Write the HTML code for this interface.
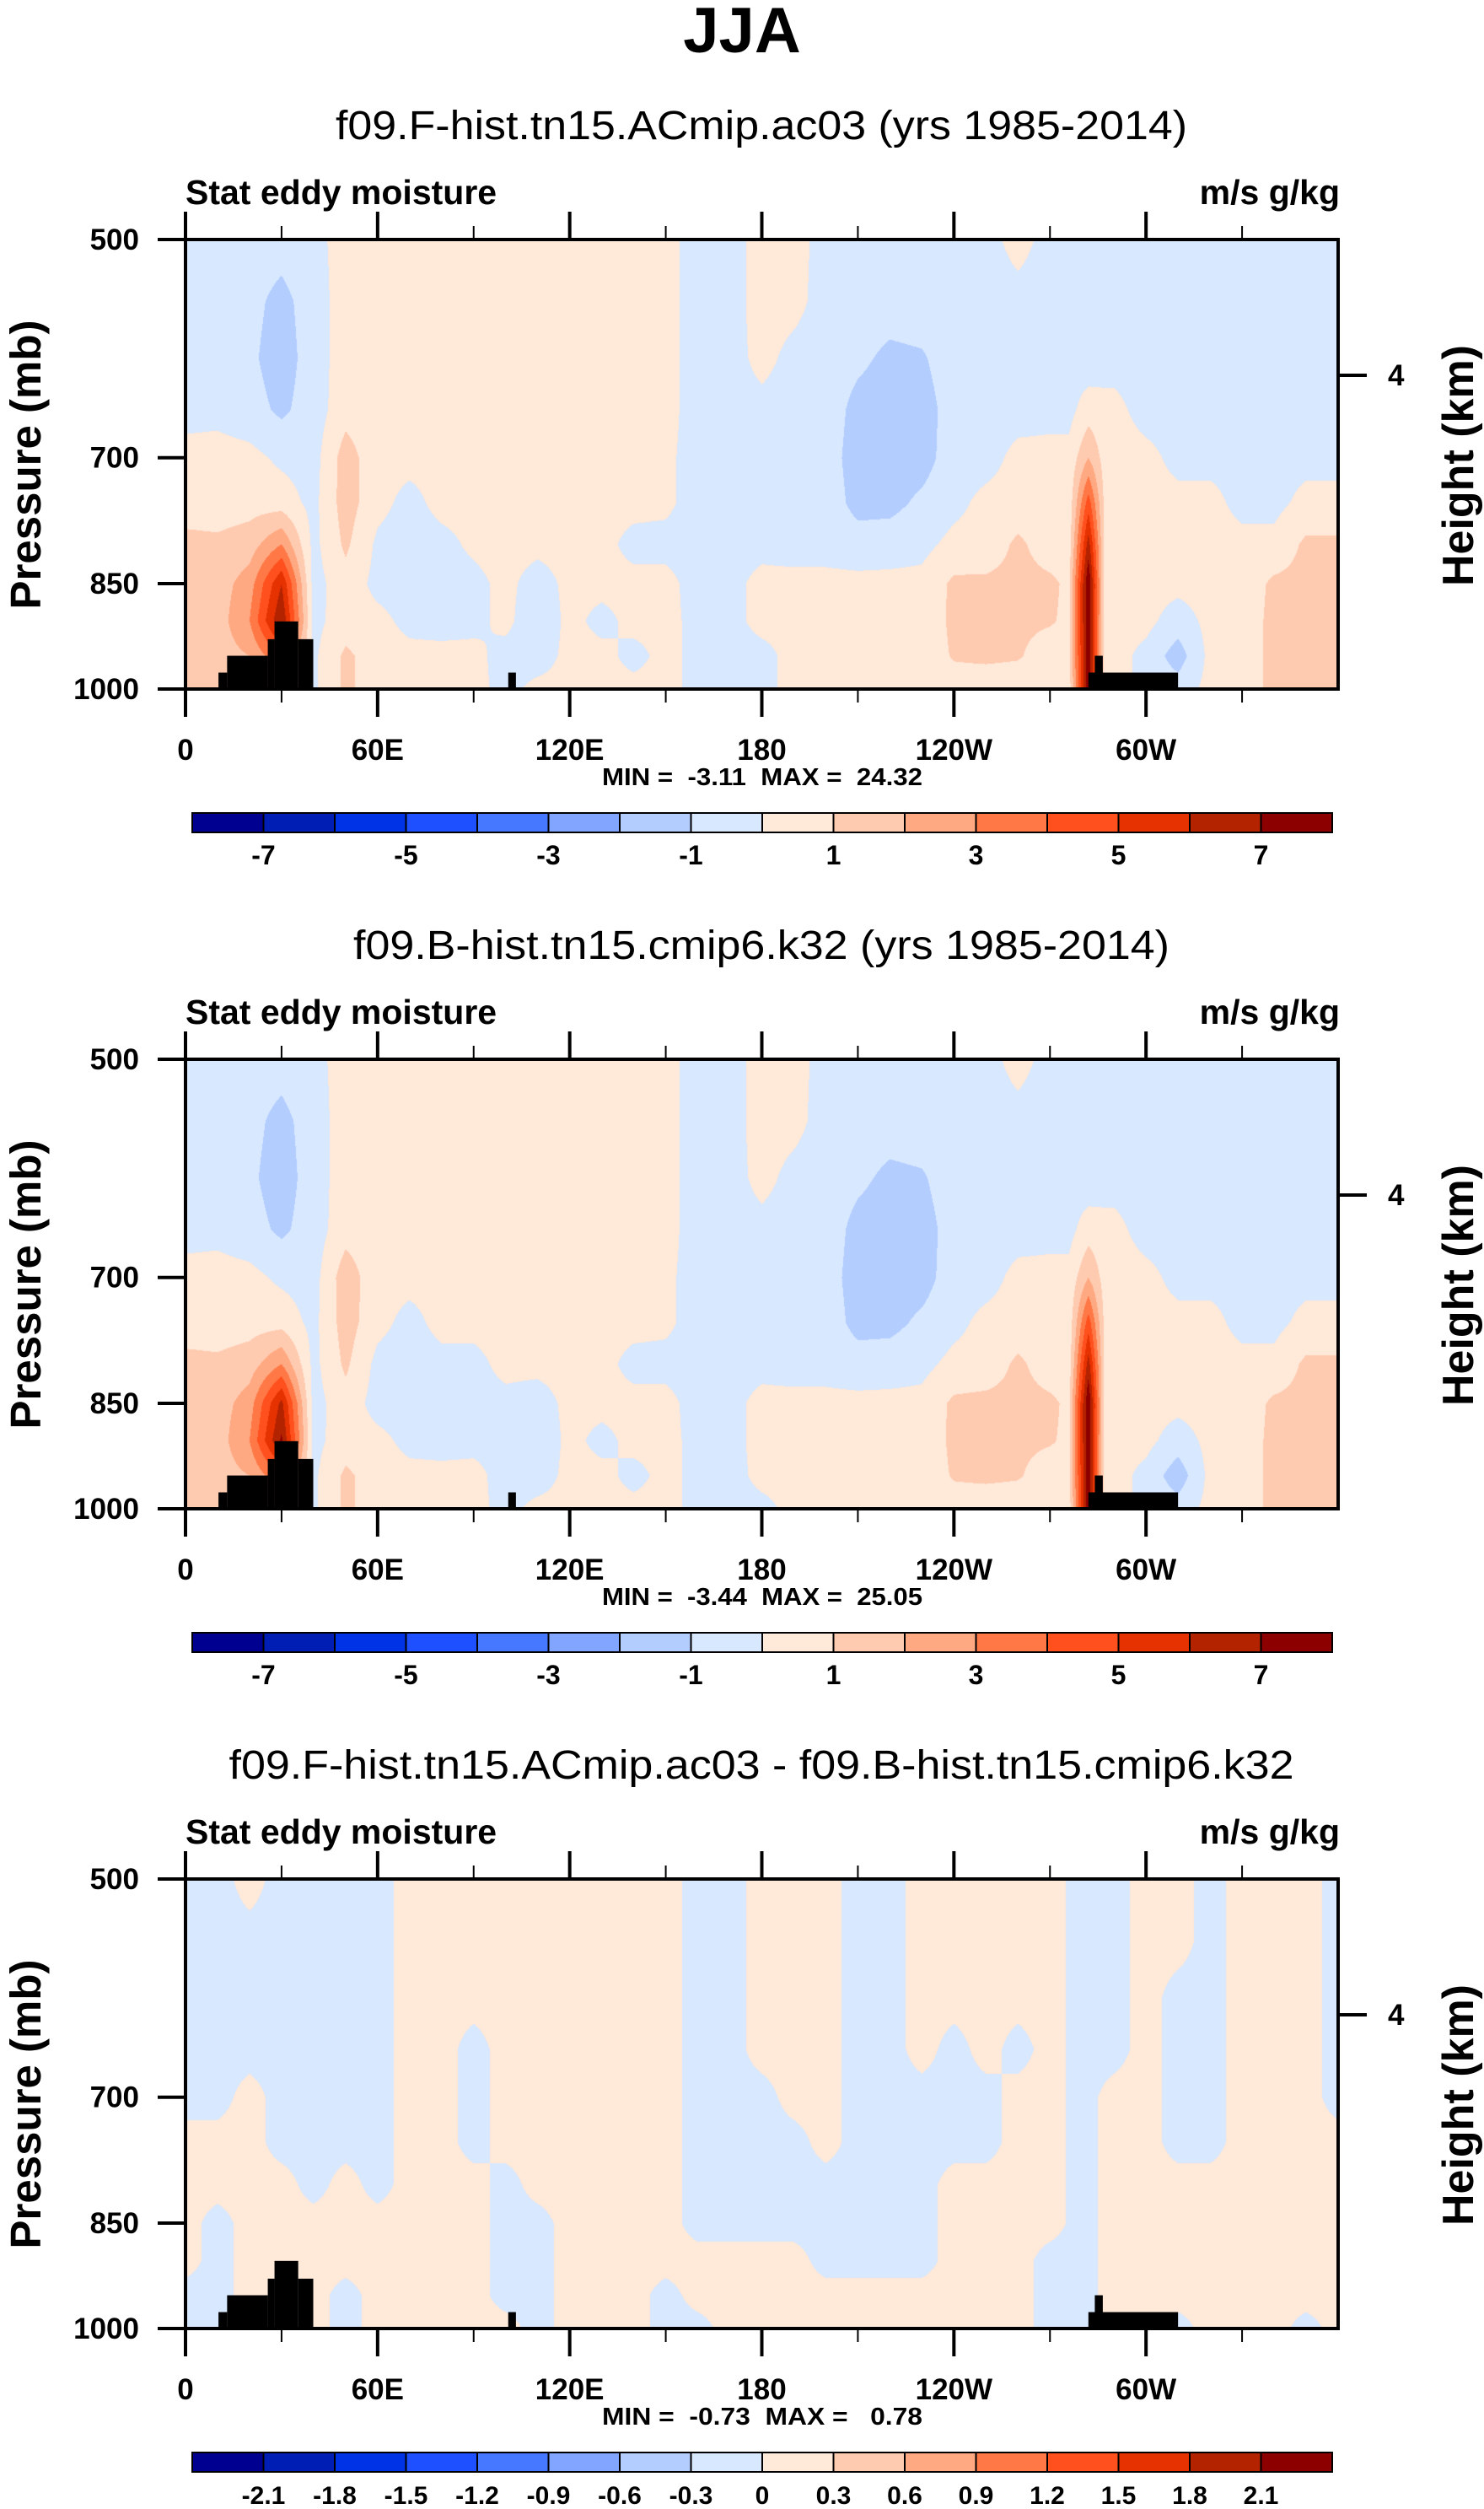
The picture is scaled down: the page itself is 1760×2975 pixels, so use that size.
<!DOCTYPE html>
<html><head><meta charset="utf-8">
<style>
html,body{margin:0;padding:0;background:#fff;}
#wrap{position:relative;width:1760px;height:2975px;overflow:hidden;}
canvas{position:absolute;left:220px;}
svg{position:absolute;left:0;top:0;}
text{font-family:"Liberation Sans",Arial,sans-serif;fill:#000;white-space:pre;}
</style></head>
<body>
<div id="wrap">
<canvas id="c0" width="1367" height="533" style="top:284px"></canvas>
<canvas id="c1" width="1367" height="533" style="top:1256px"></canvas>
<canvas id="c2" width="1367" height="533" style="top:2228px"></canvas>
<svg id="svg" width="1760" height="2975" xmlns="http://www.w3.org/2000/svg">
<text x="880" y="62" text-anchor="middle" font-size="76" font-weight="bold">JJA</text>
</svg>
</div>
<script>
// ---- data ----
const lonNodes=[0,10,20,30,40,50,60,70,80,90,100,110,120,130,140,150,160,170,180,190,200,210,220,230,240,250,260,270,280,290,300,310,320,330,340,350,360];
const lonNodesFine=[0,10,20,30,40,50,60,70,80,90,100,110,120,130,140,150,160,170,180,190,200,210,220,230,240,250,260,270,276,282,287,290,300,310,320,330,340,350,360];
const presLevels=[500,550,600,650,700,750,800,850,900,950,1000];
const field1=[
[-0.5,-0.5,-0.5,-0.3,0.3,0.5,1.3,1.5,1.5,1.5,1.5],
[-0.5,-0.5,-0.5,-0.3,0.4,0.5,1.2,1.5,1.5,1.5,1.5],
[-0.5,-0.7,-0.8,-0.6,0.3,0.6,1.5,2.5,3,2,2],
[-0.6,-1.3,-1.5,-1.2,-0.2,0.5,3,6,7,4,3],
[-0.3,-0.5,-0.5,-0.5,-0.4,-0.3,-0.3,-0.4,-0.3,-0.2,-0.2],
[0.4,0.5,0.5,0.6,1.5,1.5,1.2,0.6,0.5,1.2,1.2],
[0.4,0.5,0.5,0.4,0.3,0.3,-0.2,-0.3,0.3,0.5,0.5],
[0.4,0.4,0.4,0.3,0.3,-0.3,-0.5,-0.5,-0.3,0.3,0.3],
[0.4,0.4,0.4,0.3,0.3,0.3,-0.3,-0.5,-0.4,0.3,0.3],
[0.4,0.4,0.4,0.4,0.4,0.3,0.2,-0.3,-0.3,0.3,0.3],
[0.4,0.4,0.4,0.4,0.4,0.4,0.4,0.3,0.3,-0.4,-0.3],
[0.4,0.4,0.4,0.4,0.4,0.4,0.3,-0.5,-0.8,-0.5,0.3],
[0.4,0.4,0.4,0.4,0.4,0.4,0.4,0.3,0.3,0.3,0.3],
[0.4,0.4,0.4,0.4,0.4,0.3,0.3,0.3,-0.3,0.3,0.3],
[0.4,0.4,0.4,0.4,0.4,0.3,-0.3,0.3,0.3,-0.3,0.3],
[0.3,0.3,0.3,0.3,0.2,0.2,-0.3,0.3,0.3,0.3,0.3],
[-0.4,-0.4,-0.4,-0.4,-0.4,-0.4,-0.4,-0.4,-0.3,-0.3,-0.3],
[-0.4,-0.4,-0.4,-0.4,-0.4,-0.4,-0.4,-0.3,-0.3,-0.4,-0.4],
[0.4,0.4,0.3,-0.3,-0.4,-0.4,-0.3,0.3,0.3,-0.3,-0.3],
[0.3,0.3,-0.3,-0.4,-0.4,-0.4,-0.4,0.3,0.3,0.3,0.3],
[-0.3,-0.4,-0.5,-0.5,-0.6,-0.5,-0.4,0.3,0.4,0.4,0.4],
[-0.4,-0.5,-0.8,-1.3,-1.4,-1.3,-0.6,0.3,0.4,0.4,0.4],
[-0.4,-0.6,-1.2,-1.5,-1.5,-1.3,-0.5,0.3,0.4,0.4,0.4],
[-0.4,-0.5,-1.1,-1.4,-1.4,-0.8,-0.3,0.3,0.4,0.4,0.4],
[-0.5,-0.5,-0.5,-0.6,-0.5,-0.3,0.3,1.2,1.2,1.1,0.5],
[-0.3,-0.4,-0.5,-0.5,-0.4,0.3,0.4,1.2,1.3,1.2,0.4],
[0.3,-0.3,-0.4,-0.4,0.3,0.4,1.2,1.3,1.2,1.1,0.4],
[-0.3,-0.4,-0.4,-0.3,0.3,0.4,0.5,1.2,1.1,0.5,0.4],
[-0.3,-0.4,-0.4,-0.3,0.3,0.4,0.5,0.8,0.8,0.6,0.5],
[-0.5,-0.8,-0.6,0.5,2,4.5,6.5,8,8,8,8],
[-0.4,-0.5,-0.4,0.3,0.6,0.8,0.8,0.6,0.5,0.5,0.5],
[-0.4,-0.4,-0.4,0.3,0.5,0.5,0.4,0.4,0.4,0.4,0.4],
[-0.4,-0.4,-0.4,-0.4,0.3,0.4,0.4,0.4,0.3,-0.3,-0.3],
[-0.4,-0.7,-0.7,-0.4,-0.3,0.3,0.3,0.3,-0.5,-1.5,-0.5],
[-0.4,-0.5,-0.5,-0.4,-0.3,0.3,0.4,0.4,0.3,0.3,0.3],
[-0.4,-0.6,-0.8,-0.6,-0.3,-0.3,0.3,0.4,0.4,0.4,0.4],
[-0.4,-0.4,-0.4,-0.4,-0.4,-0.3,0.3,1.2,1.3,1.3,1.3],
[-0.4,-0.4,-0.4,-0.4,-0.3,0.3,1.2,1.3,1.3,1.4,1.4],
[-0.4,-0.4,-0.4,-0.4,-0.3,0.3,1.2,1.3,1.3,1.5,1.5]];
const field2=[
[-0.5,-0.5,-0.5,-0.3,0.3,0.5,1.3,1.5,1.5,1.5,1.5],
[-0.5,-0.5,-0.5,-0.3,0.4,0.5,1.2,1.5,1.5,1.5,1.5],
[-0.5,-0.7,-0.8,-0.6,0.3,0.6,1.5,2.5,3,2,2],
[-0.6,-1.3,-1.5,-1.2,-0.2,0.6,3,6.3,7.2,4,3],
[-0.3,-0.5,-0.5,-0.5,-0.4,-0.3,-0.3,-0.4,-0.3,-0.2,-0.2],
[0.4,0.5,0.5,0.6,1.6,1.5,1.2,0.6,0.5,1.2,1.2],
[0.4,0.5,0.5,0.4,0.3,0.3,-0.3,-0.4,0.3,0.5,0.5],
[0.4,0.4,0.4,0.3,0.3,-0.3,-0.5,-0.5,-0.3,0.3,0.3],
[0.4,0.4,0.4,0.3,0.3,0.3,-0.3,-0.5,-0.4,0.3,0.3],
[0.4,0.4,0.4,0.4,0.4,0.3,-0.3,-0.4,-0.3,0.3,0.3],
[0.4,0.4,0.4,0.4,0.4,0.4,0.3,-0.3,-0.3,-0.4,-0.3],
[0.4,0.4,0.4,0.4,0.4,0.4,0.3,-0.5,-0.8,-0.5,0.3],
[0.4,0.4,0.4,0.4,0.4,0.4,0.4,0.3,0.3,0.3,0.3],
[0.4,0.4,0.4,0.4,0.4,0.3,0.3,0.3,-0.3,0.3,0.3],
[0.4,0.4,0.4,0.4,0.4,0.3,-0.3,0.3,0.3,-0.3,0.3],
[0.3,0.3,0.3,0.3,0.2,0.2,-0.3,0.3,0.3,0.3,0.3],
[-0.4,-0.4,-0.4,-0.4,-0.4,-0.4,-0.4,-0.4,-0.3,-0.3,-0.3],
[-0.4,-0.4,-0.4,-0.4,-0.4,-0.4,-0.4,-0.3,-0.3,-0.4,-0.4],
[0.4,0.4,0.3,-0.3,-0.4,-0.4,-0.3,0.3,0.3,0.3,-0.3],
[0.3,0.3,-0.3,-0.4,-0.4,-0.4,-0.4,0.3,0.3,0.3,0.3],
[-0.3,-0.4,-0.5,-0.5,-0.6,-0.5,-0.4,0.3,0.4,0.4,0.4],
[-0.4,-0.5,-0.8,-1.3,-1.4,-1.3,-0.6,0.3,0.4,0.4,0.4],
[-0.4,-0.6,-1.2,-1.5,-1.5,-1.3,-0.5,0.3,0.4,0.4,0.4],
[-0.4,-0.5,-1.1,-1.4,-1.4,-0.8,-0.3,0.3,0.4,0.4,0.4],
[-0.5,-0.5,-0.5,-0.6,-0.5,-0.3,0.3,1.2,1.2,1.1,0.5],
[-0.3,-0.4,-0.5,-0.5,-0.4,0.3,0.4,1.3,1.3,1.2,0.4],
[0.3,-0.3,-0.4,-0.4,0.3,0.4,1.2,1.3,1.2,1.1,0.4],
[-0.3,-0.4,-0.4,-0.3,0.3,0.4,0.5,1.2,1.1,0.5,0.4],
[-0.3,-0.4,-0.4,-0.3,0.3,0.4,0.5,0.8,0.8,0.6,0.5],
[-0.5,-0.8,-0.6,0.5,2,4.5,6.5,8,8,8,8],
[-0.4,-0.5,-0.4,0.3,0.6,0.8,0.8,0.6,0.5,0.5,0.5],
[-0.4,-0.4,-0.4,0.3,0.5,0.5,0.4,0.4,0.4,0.4,0.4],
[-0.4,-0.4,-0.4,-0.4,0.3,0.4,0.4,0.4,0.3,-0.3,-0.3],
[-0.4,-0.7,-0.7,-0.4,-0.3,0.3,0.3,0.3,-0.5,-1.6,-0.5],
[-0.4,-0.5,-0.5,-0.4,-0.3,0.3,0.4,0.4,0.3,0.3,0.3],
[-0.4,-0.6,-0.8,-0.6,-0.3,-0.3,0.3,0.4,0.4,0.4,0.4],
[-0.4,-0.4,-0.4,-0.4,-0.4,-0.3,0.3,1.2,1.3,1.3,1.3],
[-0.4,-0.4,-0.4,-0.4,-0.3,0.3,1.2,1.3,1.3,1.4,1.4],
[-0.4,-0.4,-0.4,-0.4,-0.3,0.3,1.2,1.3,1.3,1.5,1.5]];
const field3=[
[-0.1,-0.1,-0.1,-0.1,-0.1,0.1,0.1,0.1,0.1,-0.1,-0.1],
[-0.1,-0.1,-0.1,-0.1,-0.1,0.1,0.1,-0.1,-0.1,-0.1,-0.1],
[0.1,-0.1,-0.1,-0.1,0.1,0.1,0.1,0.1,0.1,0.1,0.1],
[-0.1,-0.1,-0.1,-0.1,-0.1,-0.1,0.1,0.1,0.1,0.1,0.1],
[-0.1,-0.1,-0.1,-0.1,-0.1,-0.1,-0.1,0.1,0.1,0.1,0.1],
[-0.1,-0.1,-0.1,-0.1,-0.1,-0.1,0.1,0.1,0.1,-0.1,-0.1],
[-0.1,-0.1,-0.1,-0.1,-0.1,-0.1,-0.1,0.1,0.1,0.1,0.1],
[0.1,0.1,0.1,0.1,0.1,0.1,0.1,0.1,0.1,0.1,0.1],
[0.1,0.1,0.1,0.1,0.1,0.1,0.1,0.1,0.1,0.1,0.1],
[0.1,0.1,0.1,-0.1,-0.1,-0.1,0.1,0.1,0.1,0.1,0.1],
[0.1,0.1,0.1,0.1,0.1,0.1,-0.1,-0.1,-0.1,-0.1,0.1],
[0.1,0.1,0.1,0.1,0.1,0.1,0.1,-0.1,-0.1,-0.1,-0.1],
[0.1,0.1,0.1,0.1,0.1,0.1,0.1,0.1,0.1,0.1,0.1],
[0.1,0.1,0.1,0.1,0.1,0.1,0.1,0.1,0.1,0.1,0.1],
[0.1,0.1,0.1,0.1,0.1,0.1,0.1,0.1,0.1,0.1,0.1],
[0.1,0.1,0.1,0.1,0.1,0.1,0.1,0.1,0.1,-0.1,-0.1],
[-0.1,-0.1,-0.1,-0.1,-0.1,-0.1,-0.1,-0.1,0.1,0.1,-0.1],
[-0.1,-0.1,-0.1,-0.1,-0.1,-0.1,-0.1,-0.1,0.1,0.1,0.1],
[0.1,0.1,0.1,0.1,-0.1,-0.1,-0.1,-0.1,0.1,0.1,0.1],
[0.1,0.1,0.1,0.1,0.1,-0.1,-0.1,-0.1,0.1,0.1,0.1],
[0.1,0.1,0.1,0.1,0.1,0.1,-0.1,-0.1,-0.1,0.1,0.1],
[-0.1,-0.1,-0.1,-0.1,-0.1,-0.1,-0.1,-0.1,-0.1,0.1,0.1],
[-0.1,-0.1,-0.1,-0.1,-0.1,-0.1,-0.1,-0.1,-0.1,0.1,0.1],
[0.1,0.1,0.1,0.1,-0.1,-0.1,-0.1,-0.1,-0.1,0.1,0.1],
[0.1,0.1,0.1,-0.1,-0.1,-0.1,0.1,0.1,0.1,0.1,0.1],
[0.1,0.1,0.1,0.1,-0.1,-0.1,0.1,0.1,0.1,0.1,0.1],
[0.1,0.1,0.1,-0.1,0.1,0.1,0.1,0.1,0.1,0.1,0.1],
[0.1,0.1,0.1,0.1,0.1,0.1,0.1,0.1,-0.1,-0.1,-0.1],
[-0.1,-0.1,-0.1,-0.1,-0.1,-0.1,-0.1,-0.1,-0.1,-0.1,-0.1],
[-0.1,-0.1,-0.1,-0.1,0.1,0.1,0.1,0.1,0.1,0.1,0.1],
[0.1,0.1,0.1,0.1,0.1,0.1,0.1,0.1,0.1,0.1,0.1],
[0.1,0.1,-0.1,-0.1,-0.1,-0.1,0.1,0.1,0.1,0.1,-0.1],
[-0.1,-0.1,-0.1,-0.1,-0.1,-0.1,0.1,0.1,0.1,0.1,0.1],
[0.1,0.1,0.1,0.1,0.1,0.1,0.1,0.1,0.1,0.1,0.1],
[0.1,0.1,0.1,0.1,0.1,0.1,0.1,0.1,0.1,0.1,0.1],
[0.1,0.1,0.1,0.1,0.1,0.1,0.1,0.1,0.1,0.1,-0.1],
[-0.1,-0.1,-0.1,-0.1,-0.1,0.1,0.1,0.1,0.1,0.1,0.1]];
const contours12=[-7,-6,-5,-4,-3,-2,-1,0,1,2,3,4,5,6,7];
const cbLabels12=["","-7","","-5","","-3","","-1","","1","","3","","5","","7",""];
const contours3=[-2.1,-1.8,-1.5,-1.2,-0.9,-0.6,-0.3,0,0.3,0.6,0.9,1.2,1.5,1.8,2.1];
const cbLabels3=["","-2.1","-1.8","-1.5","-1.2","-0.9","-0.6","-0.3","0","0.3","0.6","0.9","1.2","1.5","1.8","2.1",""];
const palette=["#000090","#001EB4","#0032E6","#1E50FF","#4678FF","#82A5FF","#B4CDFF","#D7E8FF","#FFE9D8","#FFCBB0","#FFA982","#FF7846","#FF501E","#E63200","#B42300","#8C0000"];
const topo=[[10.3,13,975],[13,25.7,950],[25.7,27.8,926],[27.8,35.2,901],[35.2,39.9,926],[100.8,103.2,975],[282,310,975],[284,286.5,950]];
const xTickVals=[0,60,120,180,240,300];
const xTickLabels=["0","60E","120E","180","120W","60W"];
const yTickVals=[500,700,850,1000];
const subtitles=["f09.F-hist.tn15.ACmip.ac03 (yrs 1985-2014)","f09.B-hist.tn15.cmip6.k32 (yrs 1985-2014)","f09.F-hist.tn15.ACmip.ac03 - f09.B-hist.tn15.cmip6.k32"];
const minVals=["-3.11","-3.44","-0.73"];
const maxVals=["24.32","25.05"," 0.78"];

// ---- geometry ----
const PL=220,PR=1587,PT=284,PB=817,PW=PR-PL,PH=PB-PT,OFF=972;
const xs=lon=>PL+lon/360*PW;
const ys=p=>PT+Math.log(p/500)/Math.log(2)*PH;
const NS="http://www.w3.org/2000/svg";
const svg=document.getElementById('svg');
function mk(tag,attrs,parent){const e=document.createElementNS(NS,tag);for(const k in attrs)e.setAttribute(k,attrs[k]);(parent||svg).appendChild(e);return e;}

function valAt(f,nodes,lon,p){
  let i=0;while(i<nodes.length-2&&lon>nodes[i+1])i++;
  const s=(lon-nodes[i])/(nodes[i+1]-nodes[i]);
  let j=0;while(j<presLevels.length-2&&p>presLevels[j+1])j++;
  const t=(p-presLevels[j])/(presLevels[j+1]-presLevels[j]);
  const a=f[i][j],b=f[i+1][j],c=f[i][j+1],d=f[i+1][j+1];
  return (a*(1-s)+b*s)*(1-t)+(c*(1-s)+d*s)*t;
}
function hex(h){return [parseInt(h.substr(1,2),16),parseInt(h.substr(3,2),16),parseInt(h.substr(5,2),16)];}
const pal=palette.map(hex);
function drawField(id,f,nodes,cl){
  const cv=document.getElementById(id),ctx=cv.getContext('2d');
  const img=ctx.createImageData(PW,PH);
  for(let y=0;y<PH;y++){
    const p=500*Math.pow(2,(y+0.5)/PH);
    for(let x=0;x<PW;x++){
      const v=valAt(f,nodes,(x+0.5)/PW*360,p);
      let k=0;while(k<cl.length&&v>=cl[k])k++;
      const c=pal[k],o=(y*PW+x)*4;
      img.data[o]=c[0];img.data[o+1]=c[1];img.data[o+2]=c[2];img.data[o+3]=255;
    }
  }
  ctx.putImageData(img,0,0);
}
const fields=[field1,field2,field3];
const nodeSets=[lonNodesFine,lonNodesFine,lonNodes];
const cls=[contours12,contours12,contours3];
const cbl=[cbLabels12,cbLabels12,cbLabels3];
for(let n=0;n<3;n++){
  drawField('c'+n,fields[n],nodeSets[n],cls[n]);
  const o=n*OFF;
  const g=mk('g',{transform:'translate(0,'+o+')'});
  
  
  let t=mk('text',{x:903,y:165,'text-anchor':'middle','font-size':48,textLength:[1010,968,1263][n],lengthAdjust:'spacingAndGlyphs'},g);
  t.textContent=subtitles[n];
  
  
  t=mk('text',{x:220,y:242,'font-size':41,'font-weight':'bold'},g);t.textContent='Stat eddy moisture';
  
  
  t=mk('text',{x:1589,y:242,'text-anchor':'end','font-size':41,'font-weight':'bold'},g);t.textContent='m/s g/kg';
  
  
  topo.forEach(tp=>{
    const r=mk('rect',{x:xs(tp[0]),y:ys(tp[2]),width:xs(tp[1])-xs(tp[0]),height:PB-ys(tp[2]),fill:'#000'},g);
    
    
  });
  const fr=mk('rect',{x:PL,y:PT,width:PW,height:PH,fill:'none',stroke:'#000','stroke-width':4},g);
  
  
  for(let lon=0;lon<360;lon+=30){
    const major=lon%60===0,L=major?33:16,w=major?4:2;
    mk('line',{x1:xs(lon),x2:xs(lon),y1:PB,y2:PB+L,stroke:'#000','stroke-width':w},g);
    mk('line',{x1:xs(lon),x2:xs(lon),y1:PT,y2:PT-L,stroke:'#000','stroke-width':w},g);
  }
  xTickVals.forEach((v,i)=>{
    const tx=mk('text',{x:xs(v),y:901,'text-anchor':'middle','font-size':35,'font-weight':'bold'},g);
    tx.textContent=xTickLabels[i];
    
    
  });
  yTickVals.forEach(v=>{
    mk('line',{x1:PL-33,x2:PL,y1:ys(v),y2:ys(v),stroke:'#000','stroke-width':4},g);
    const tx=mk('text',{x:165,y:ys(v)+12,'text-anchor':'end','font-size':35,'font-weight':'bold'},g);
    tx.textContent=String(v);
    
    
  });
  const p4=500*Math.pow(2,0.302);
  mk('line',{x1:PR,x2:PR+34,y1:ys(p4),y2:ys(p4),stroke:'#000','stroke-width':4},g);
  t=mk('text',{x:1646,y:ys(p4)+12,'font-size':35,'font-weight':'bold'},g);t.textContent='4';
  
  
  t=mk('text',{x:0,y:0,'text-anchor':'middle','font-size':51,'font-weight':'bold',transform:'translate(48,551) rotate(-90)'},g);
  t.textContent='Pressure (mb)';
  
  
  t=mk('text',{x:0,y:0,'text-anchor':'middle','font-size':52,'font-weight':'bold',transform:'translate(1747,552) rotate(-90)'},g);
  t.textContent='Height (km)';
  
  
  t=mk('text',{x:904,y:931,'text-anchor':'middle','font-size':29,'font-weight':'bold',textLength:380,lengthAdjust:'spacingAndGlyphs'},g);
  t.textContent='MIN =\u00a0\u00a0'+minVals[n]+'\u00a0\u00a0MAX =\u00a0\u00a0'+maxVals[n];
  
  
  const cbx=228,cbw=84.5,cby=964,cbh=23;
  palette.forEach((c,k)=>{
    const r=mk('rect',{x:cbx+k*cbw,y:cby,width:cbw,height:cbh,fill:c,stroke:'#000','stroke-width':2},g);
    
    
  });
  cbl[n].forEach((lab,k)=>{
    if(!lab)return;
    const tx=mk('text',{x:cbx+k*cbw,y:1025,'text-anchor':'middle','font-size':n===2?30:32,'font-weight':'bold'},g);
    tx.textContent=lab;
    
    
  });
}
</script>
</body></html>
